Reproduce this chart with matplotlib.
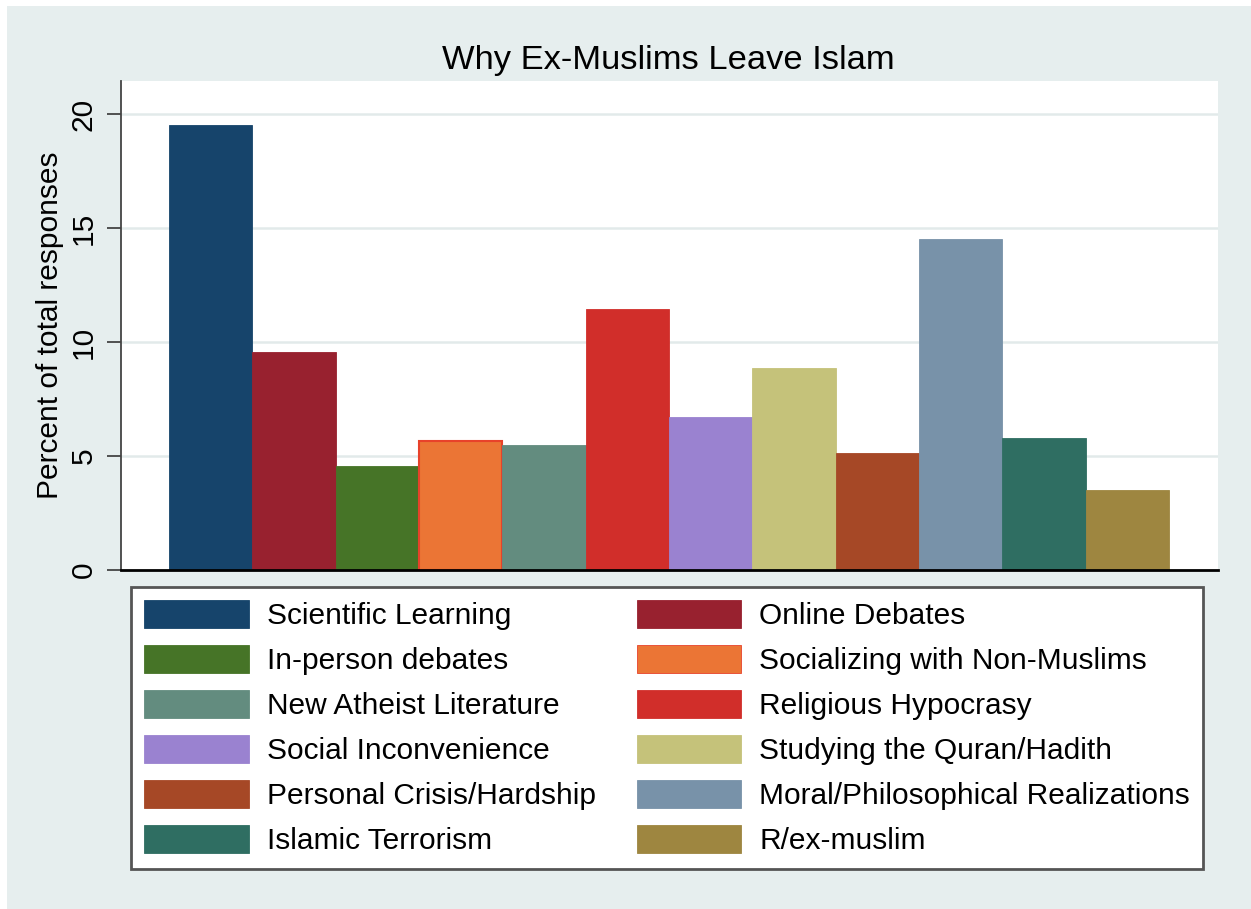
import matplotlib
matplotlib.use("Agg")
import matplotlib.pyplot as plt
from matplotlib.patches import Rectangle, Patch

plt.rcParams['font.family'] = ['Liberation Sans', 'DejaVu Sans']

categories = ["Scientific Learning", "Online Debates", "In-person debates",
              "Socializing with Non-Muslims", "New Atheist Literature",
              "Religious Hypocrasy", "Social Inconvenience",
              "Studying the Quran/Hadith", "Personal Crisis/Hardship",
              "Moral/Philosophical Realizations", "Islamic Terrorism",
              "R/ex-muslim"]
values = [19.52, 9.56, 4.54, 5.63, 5.46, 11.45, 6.72, 8.86, 5.13, 14.53, 5.78, 3.48]
colors = ["#16446B", "#98212F", "#467427", "#EB7535", "#638C7F", "#D12E2A",
          "#9A82D0", "#C5C27A", "#A64826", "#7892A9", "#2F6E62", "#9E8640"]
edgecolors = [None, None, None, "#E8422A", None, None, None, None, None, None, None, None]
yticks = [0, 5, 10, 15, 20]

W, H = 1251, 909
fig = plt.figure(figsize=(W / 100, H / 100), dpi=100)
fig.patch.set_facecolor("white")
fig.add_artist(Rectangle((7 / W, 0), 1 - 7 / W, 1 - 6 / H, transform=fig.transFigure,
                         facecolor="#E6EEEE", edgecolor="none", zorder=-10))

left, right, top, bottom = 121, 1218, 81, 569.5
ax = fig.add_axes([left / W, 1 - bottom / H, (right - left) / W, (bottom - top) / H])
ax.set_facecolor("white")

handles = []
for i, (v, c, ec) in enumerate(zip(values, colors, edgecolors)):
    if ec:
        ax.bar(i, v, width=1.0, color=c, edgecolor=ec, linewidth=1.5, zorder=3)
    else:
        ax.bar(i, v, width=1.0, color=c, edgecolor=c, linewidth=0.6, zorder=3)
    handles.append(Patch(facecolor=c, edgecolor=(ec if ec else c), linewidth=0.6))

ax.set_xlim(-1.076, 12.09)
ax.set_ylim(0, 21.47)
ax.set_xticks([])
ax.set_yticks(yticks)
ax.set_yticklabels([str(t) for t in yticks], rotation=90, va='center', fontsize=21.5)
ax.tick_params(axis='y', length=10, width=1.3, color="#444444", pad=7)
for t in yticks[1:]:
    ax.axhline(t, color="#E2EAEA", linewidth=1.8, zorder=1)

for s in ['top', 'right']:
    ax.spines[s].set_visible(False)
ax.spines['left'].set_color("#444444")
ax.spines['left'].set_linewidth(1.3)
ax.spines['bottom'].set_color("black")
ax.spines['bottom'].set_linewidth(2)
ax.spines['bottom'].set_zorder(5)

ax.set_ylabel("Percent of total responses", fontsize=21.5, labelpad=4)

fig.text(668 / W, 1 - 69 / H, "Why Ex-Muslims Leave Islam", fontsize=24.8,
         ha='center', va='baseline')

# legend filled row by row (two columns)
order = list(range(0, 12, 2)) + list(range(1, 12, 2))
leg = fig.legend([handles[i] for i in order], [categories[i] for i in order],
                 ncol=2, loc='upper left',
                 bbox_to_anchor=(131 / W, 1 - 587 / H), bbox_transform=fig.transFigure,
                 borderaxespad=0, fontsize=21.5, frameon=True, fancybox=False,
                 handlelength=3.5, handleheight=1.05, handletextpad=0.6,
                 labelspacing=0.5, columnspacing=1.37, borderpad=0.45)
leg._legend_box.align = "left"
fr = leg.get_frame()
fr.set_edgecolor("#555555")
fr.set_linewidth(2)
fr.set_facecolor("white")
fr.set_alpha(1)

# widen frame slightly to match reference right padding
fig.canvas.draw()
bb = leg.get_window_extent()
fr.set_bounds(bb.x0, bb.y0, bb.width + 6, bb.height)

fig.savefig("out.png", dpi=100)
